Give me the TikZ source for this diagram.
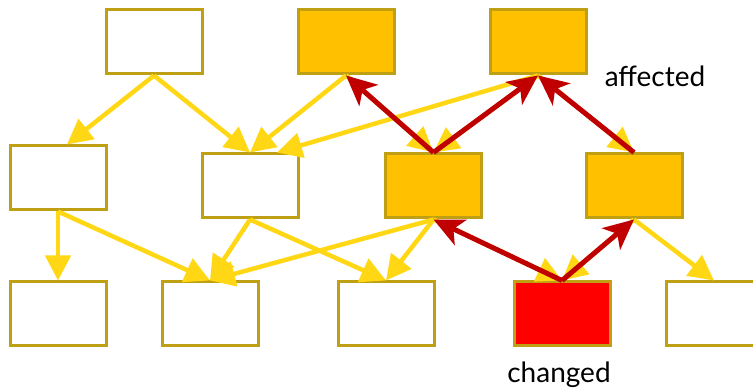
\documentclass[tikz,border=0pt]{standalone}
\usepackage{fontspec}
\setmainfont{Lato}
\usepackage{tikz}
\usetikzlibrary{arrows.meta}
\definecolor{boxline}{RGB}{191,160,20}
\definecolor{boxfill}{RGB}{255,192,0}
\definecolor{depline}{RGB}{255,215,20}
\definecolor{hitline}{RGB}{192,0,0}
\tikzstyle{box} = [draw=boxline, line width=3pt, minimum width=96pt, minimum height=64pt, inner sep=0pt]
\tikzstyle{dep} = [draw=depline, line width=4.5pt, -{Triangle[length=25pt,width=25pt]}]
\tikzstyle{hit} = [draw=hitline, line width=5pt, -{Stealth[length=30pt,width=28pt,inset=8pt]}]

\begin{document}
\begin{tikzpicture}[x=1pt, y=-1pt]
    \useasboundingbox (0,0) rectangle (753,390);
    % top row
    \node[box] (a) at (154,42) {};
    \node[box, fill=boxfill] (b) at (346,42) {};
    \node[box, fill=boxfill] (c) at (538,42) {};
    % middle row
    \node[box] (d) at (58,178) {};
    \node[box] (e) at (250,186) {};
    \node[box, fill=boxfill] (f) at (433.5,186) {};
    \node[box, fill=boxfill] (g) at (634,186) {};
    % bottom row
    \node[box] (h) at (58,314) {};
    \node[box] (i) at (210,314) {};
    \node[box] (j) at (386,314) {};
    \node[box, fill=red] (k) at (562,314) {};
    \node[box] (l) at (714,314) {};
    \node (aff) at (655,76) {\fontsize{28}{30}\selectfont affected};
    \node (chg) at (559,375) {\fontsize{28}{30}\selectfont changed};
    % dependencies
    \draw (a.south) edge[dep] ([xshift=9pt]d.north)
    (a.south) edge[dep] (e.north)
    (b.south) edge[dep] (e.north)
    (c.south) edge[dep] ([xshift=27pt]e.north)
    (b.south) edge[dep] (f.north)
    (c.south) edge[dep] (f.north)
    (c.south) edge[dep] (g.north)
    (d.south) edge[dep] (h.north)
    (d.south) edge[dep] (i.north)
    (e.south) edge[dep] (i.north)
    (f.south) edge[dep] (i.north)
    (e.south) edge[dep] (j.north)
    (f.south) edge[dep] (j.north)
    (f.south) edge[dep] (k.north)
    (g.south) edge[dep] (k.north)
    (g.south) edge[dep] (l.north);
    % propagation of the change
    \draw (k.north) edge[hit] (f.south)
    (k.north) edge[hit] (g.south)
    (f.north) edge[hit] (b.south)
    (f.north) edge[hit] (c.south)
    (g.north) edge[hit] (c.south);
\end{tikzpicture}
\end{document}
